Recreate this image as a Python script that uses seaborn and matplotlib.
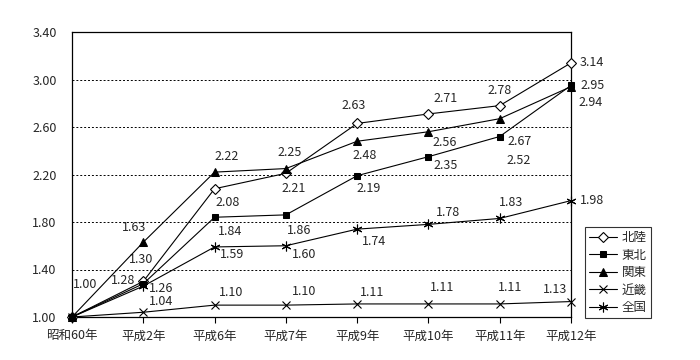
import numpy as np
import pandas as pd
import matplotlib
matplotlib.use("Agg")
import matplotlib.pyplot as plt
import seaborn as sns

# 年次
nendo = ['昭和60年', '平成2年', '平成6年', '平成7年', '平成9年', '平成10年', '平成11年', '平成12年']

# 地域別の指数（昭和60年=1.00）
hokuriku = [1.00, 1.30, 2.08, 2.21, 2.63, 2.71, 2.78, 3.14]
tohoku = [1.00, 1.28, 1.84, 1.86, 2.19, 2.35, 2.52, 2.95]
kanto = [1.00, 1.63, 2.22, 2.25, 2.48, 2.56, 2.67, 2.94]
kinki = [1.00, 1.04, 1.10, 1.10, 1.11, 1.11, 1.11, 1.13]
zenkoku = [1.00, 1.26, 1.59, 1.60, 1.74, 1.78, 1.83, 1.98]

chiiki = ['北陸', '東北', '関東', '近畿', '全国']
valeurs = [hokuriku, tohoku, kanto, kinki, zenkoku]

# マーカーの形
styles = {
    '北陸': dict(marker='D', ms=5.5, mfc='white', mec='black', mew=0.8),
    '東北': dict(marker='s', ms=5, mfc='black', mec='black'),
    '関東': dict(marker='^', ms=6, mfc='black', mec='black'),
    '近畿': dict(marker='x', ms=6, mec='black', mew=0.8),
    '全国': dict(marker=(6, 2, 0), ms=7, mec='black', mew=0.8),
}

# ラベルの位置（ピクセル単位のずれ、None = ラベルなし）
decalages = {
    '北陸': [(13, 32), (-2, 22), (13, -14), (8, -15), (-3, 18), (17, 15), (0, 15), (21, 0)],
    '東北': [None, (-20, 3), (16, -14), (13, -16), (11, -13), (17, -9), (19, -24), (22, 0)],
    '関東': [None, (-9, 15), (12, 16), (4, 16), (8, -14), (16, -11), (20, -23), (20, -16)],
    '近畿': [None, (18, 11), (17, 13), (18, 14), (15, 11), (14, 16), (10, 16), (-16, 12)],
    '全国': [None, (18, -2), (17, -8), (18, -9), (17, -12), (20, 12), (11, 16), (21, 0)],
}

sns.set_style('white')
plt.rcParams['font.family'] = ['Noto Sans CJK JP', 'DejaVu Sans']
taille = 9

fig = plt.figure(figsize=(7, 3.6), dpi=100)
ax = fig.add_axes([72 / 700, 1 - 317 / 360, (571 - 72) / 700, (317 - 32) / 360])

x = np.arange(len(nendo))
handles = []
for nom, v in zip(chiiki, valeurs):
    df = pd.DataFrame({'x': x, 'y': v})
    sns.lineplot(data=df, x='x', y='y', ax=ax, color='black', linewidth=0.8,
                 **styles[nom], clip_on=False, zorder=3)
    handles.append(ax.lines[-1])
    for xi, yi, d in zip(x, v, decalages[nom]):
        if d is None:
            continue
        ax.annotate(f'{yi:.2f}', (xi, yi), xytext=d, textcoords='offset pixels',
                    ha='center', va='center', fontsize=taille)

ax.set_xlim(0, 7)
ax.set_ylim(1.0, 3.4)
ax.set_xticks(x)
ax.set_xticklabels(nendo, fontsize=taille)
ax.set_yticks(np.arange(1.0, 3.41, 0.4))
ax.set_yticklabels([f'{t:.2f}' for t in np.arange(1.0, 3.41, 0.4)], fontsize=taille)
ax.set_xlabel('')
ax.set_ylabel('')
ax.tick_params(axis='x', length=4, width=0.8, color='black', direction='out', pad=5, bottom=True)
ax.tick_params(axis='y', length=0, pad=11)

for t in np.arange(1.4, 3.01, 0.4):
    ax.axhline(t, color='black', linestyle=(0, (2, 2)), linewidth=0.7, zorder=1)

for s in ax.spines.values():
    s.set_color('black')
    s.set_linewidth(0.9)

leg = ax.legend(handles, chiiki, loc='upper left', bbox_to_anchor=(585 / 700, 1 - 227 / 360),
                bbox_transform=fig.transFigure, fontsize=taille, frameon=True, fancybox=False,
                edgecolor='black', handlelength=2.2, handletextpad=0.4, borderpad=0.35,
                labelspacing=0.35, borderaxespad=0)
leg.get_frame().set_linewidth(0.8)

fig.savefig('out.png', dpi=100)
